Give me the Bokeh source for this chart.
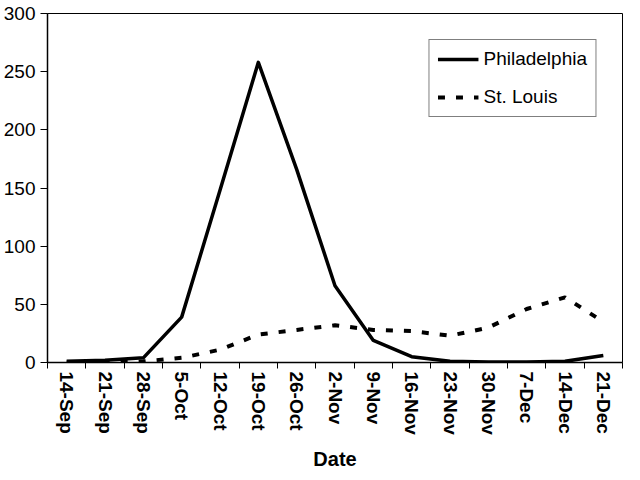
from bokeh.plotting import figure
from bokeh.models import Range1d, FixedTicker, Legend, LegendItem
from bokeh.embed import file_html
from bokeh.resources import INLINE

# Data (weekly values)
dates = ["14-Sep", "21-Sep", "28-Sep", "5-Oct", "12-Oct", "19-Oct", "26-Oct",
         "2-Nov", "9-Nov", "16-Nov", "23-Nov", "30-Nov", "7-Dec", "14-Dec", "21-Dec"]
philadelphia = [1, 2, 4, 39, 148, 258, 166, 66, 19, 5, 1, 0.5, 0.5, 1, 6]
st_louis = [0, 0, 1, 4, 11, 24, 28, 32, 28, 27, 23, 30, 46, 56, 35]
y_ticks = [0, 50, 100, 150, 200, 250, 300]

FONT = "Liberation Sans"

x = list(range(len(dates)))

p = figure(width=632, height=472, output_backend="svg", toolbar_location=None,
           x_range=Range1d(-0.5, len(dates) - 0.5),
           y_range=Range1d(y_ticks[0], y_ticks[-1]),
           min_border_left=4, min_border_right=10, min_border_top=13,
           min_border_bottom=0)

p.background_fill_color = "white"
p.border_fill_color = "white"
p.xgrid.visible = False
p.ygrid.visible = False
p.outline_line_color = "black"
p.outline_line_width = 1

# X axis: labels at week centres, tick marks between weeks
p.xaxis.ticker = FixedTicker(ticks=x, minor_ticks=[i - 0.5 for i in range(len(dates) + 1)])
p.xaxis.major_label_overrides = {i: d for i, d in enumerate(dates)}
p.xaxis.major_tick_out = 0
p.xaxis.major_tick_in = 0
p.xaxis.minor_tick_out = 6
p.xaxis.minor_tick_in = 0
p.xaxis.minor_tick_line_color = "black"
p.xaxis.minor_tick_line_width = 1
p.xaxis.axis_line_color = "black"
p.xaxis.axis_line_width = 1.5
p.xaxis.major_label_orientation = "vertical"
p.xaxis.major_label_text_font = FONT
p.xaxis.major_label_text_font_style = "bold"
p.xaxis.major_label_text_font_size = "19px"
p.xaxis.major_label_text_color = "black"
p.xaxis.major_label_standoff = 3
p.xaxis.axis_label = "Date"
p.xaxis.axis_label_text_font = FONT
p.xaxis.axis_label_text_font_style = "bold"
p.xaxis.axis_label_text_font_size = "20px"
p.xaxis.axis_label_text_color = "black"
p.xaxis.axis_label_standoff = 10

# Y axis
p.yaxis.ticker = FixedTicker(ticks=y_ticks)
p.yaxis.major_tick_out = 7
p.yaxis.major_tick_in = 0
p.yaxis.minor_tick_out = 0
p.yaxis.minor_tick_in = 0
p.yaxis.major_tick_line_color = "black"
p.yaxis.axis_line_color = "black"
p.yaxis.axis_line_width = 1.5
p.yaxis.major_label_text_font = FONT
p.yaxis.major_label_text_font_size = "19px"
p.yaxis.major_label_text_color = "black"
p.yaxis.major_label_standoff = 5

r1 = p.line(x, philadelphia, line_color="black", line_width=3.5, line_join="round")
r2 = p.line(x, st_louis, line_color="black", line_width=4, line_dash="7 11")

legend = Legend(items=[LegendItem(label="Philadelphia", renderers=[r1]),
                       LegendItem(label="St. Louis", renderers=[r2])],
                location="top_right", margin=26,
                border_line_color="black", border_line_width=1,
                background_fill_color="white", background_fill_alpha=1.0,
                label_text_font=FONT, label_text_font_size="19px",
                label_text_color="black",
                glyph_width=41, glyph_height=20, label_height=20,
                label_standoff=5, spacing=16, padding=8)
p.add_layout(legend)

open("out.html", "w").write(file_html(p, INLINE))
